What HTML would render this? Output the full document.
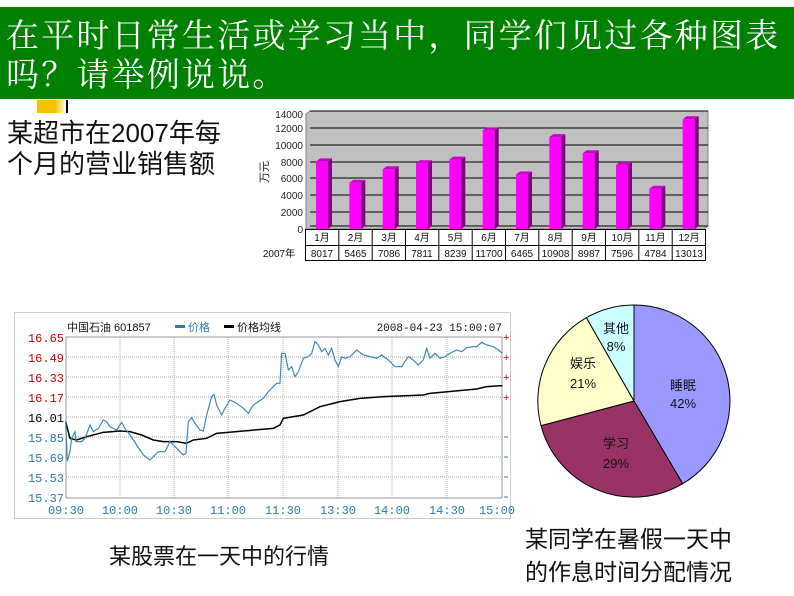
<!DOCTYPE html>
<html><head><meta charset="utf-8"><style>
body{margin:0;width:794px;height:596px;background:#fff;overflow:hidden;position:relative;font-family:"Liberation Sans","Noto Sans CJK SC",sans-serif}
.t{position:absolute;white-space:nowrap}
</style></head><body>
<div style="position:absolute;left:0;top:7px;width:794px;height:92px;background:#008000"></div>
<div class="t" style="left:6px;top:14px;color:#fff;font-size:33px;letter-spacing:2.2px;line-height:39px;font-family:'Noto Serif CJK SC','WenQuanYi Zen Hei',serif">在平时日常生活或学习当中，同学们见过各种图表<br>吗？请举例说说。</div>
<div style="position:absolute;left:37px;top:100px;width:30px;height:13px;background:linear-gradient(90deg,#f5c200 60%,#fff)"></div>
<div style="position:absolute;left:66px;top:100px;width:2px;height:13px;background:#000"></div>
<div class="t" style="left:7px;top:118px;font-size:26px;line-height:31px;color:#111">某超市在2007年每<br>个月的营业销售额</div>

<svg style="position:absolute;left:0;top:0" width="794" height="596">
<polygon points="306,114 310,111 708,111 708,226 704,229 306,229" fill="#c0c0c0" stroke="#808080"/>
<g stroke="#000" stroke-width="1">
<line x1="310" y1="111" x2="708" y2="111"/><line x1="310" y1="128" x2="708" y2="128"/><line x1="310" y1="145" x2="708" y2="145"/><line x1="310" y1="162" x2="708" y2="162"/><line x1="310" y1="178" x2="708" y2="178"/><line x1="310" y1="195" x2="708" y2="195"/><line x1="310" y1="212" x2="708" y2="212"/><line x1="310" y1="226" x2="708" y2="226"/>
</g>
<line x1="306" y1="114" x2="306" y2="229" stroke="#808080"/>
<g font-size="10" text-anchor="end" fill="#222">
<text x="303" y="118">14000</text><text x="303" y="132">12000</text><text x="303" y="149">10000</text><text x="303" y="166">8000</text><text x="303" y="182">6000</text><text x="303" y="199">4000</text><text x="303" y="216">2000</text><text x="303" y="233">0</text>
</g>
<text x="0" y="0" font-size="11" transform="translate(268,172) rotate(-90)" text-anchor="middle" fill="#222">万元</text>
<g>
<g transform="translate(316,161.4)"><rect width="12" height="67.6" fill="#f0f"/><polygon points="12,0 16,-3 16,64.6 12,67.6" fill="#800080"/><polygon points="0,0 4,-3 16,-3 12,0" fill="#c0c"/></g>
<g transform="translate(349.3,182.9)"><rect width="12" height="46.1" fill="#f0f"/><polygon points="12,0 16,-3 16,43.1 12,46.1" fill="#800080"/><polygon points="0,0 4,-3 16,-3 12,0" fill="#c0c"/></g>
<g transform="translate(382.7,169.3)"><rect width="12" height="59.7" fill="#f0f"/><polygon points="12,0 16,-3 16,56.7 12,59.7" fill="#800080"/><polygon points="0,0 4,-3 16,-3 12,0" fill="#c0c"/></g>
<g transform="translate(416,163.2)"><rect width="12" height="65.8" fill="#f0f"/><polygon points="12,0 16,-3 16,62.8 12,65.8" fill="#800080"/><polygon points="0,0 4,-3 16,-3 12,0" fill="#c0c"/></g>
<g transform="translate(449.3,159.6)"><rect width="12" height="69.4" fill="#f0f"/><polygon points="12,0 16,-3 16,66.4 12,69.4" fill="#800080"/><polygon points="0,0 4,-3 16,-3 12,0" fill="#c0c"/></g>
<g transform="translate(482.7,130.4)"><rect width="12" height="98.6" fill="#f0f"/><polygon points="12,0 16,-3 16,95.6 12,98.6" fill="#800080"/><polygon points="0,0 4,-3 16,-3 12,0" fill="#c0c"/></g>
<g transform="translate(516,174.5)"><rect width="12" height="54.5" fill="#f0f"/><polygon points="12,0 16,-3 16,51.5 12,54.5" fill="#800080"/><polygon points="0,0 4,-3 16,-3 12,0" fill="#c0c"/></g>
<g transform="translate(549.3,137.1)"><rect width="12" height="91.9" fill="#f0f"/><polygon points="12,0 16,-3 16,88.9 12,91.9" fill="#800080"/><polygon points="0,0 4,-3 16,-3 12,0" fill="#c0c"/></g>
<g transform="translate(582.7,153.3)"><rect width="12" height="75.7" fill="#f0f"/><polygon points="12,0 16,-3 16,72.7 12,75.7" fill="#800080"/><polygon points="0,0 4,-3 16,-3 12,0" fill="#c0c"/></g>
<g transform="translate(616,165)"><rect width="12" height="64" fill="#f0f"/><polygon points="12,0 16,-3 16,61 12,64" fill="#800080"/><polygon points="0,0 4,-3 16,-3 12,0" fill="#c0c"/></g>
<g transform="translate(649.3,188.7)"><rect width="12" height="40.3" fill="#f0f"/><polygon points="12,0 16,-3 16,37.3 12,40.3" fill="#800080"/><polygon points="0,0 4,-3 16,-3 12,0" fill="#c0c"/></g>
<g transform="translate(682.7,119.3)"><rect width="12" height="109.7" fill="#f0f"/><polygon points="12,0 16,-3 16,106.7 12,109.7" fill="#800080"/><polygon points="0,0 4,-3 16,-3 12,0" fill="#c0c"/></g>
</g>
<g stroke="#000" stroke-width="1" fill="none">
<rect x="305.5" y="229.5" width="400" height="31"/><line x1="305" y1="245.5" x2="706" y2="245.5"/>
<line x1="338.8" y1="229" x2="338.8" y2="261"/><line x1="372.2" y1="229" x2="372.2" y2="261"/><line x1="405.5" y1="229" x2="405.5" y2="261"/><line x1="438.8" y1="229" x2="438.8" y2="261"/><line x1="472.2" y1="229" x2="472.2" y2="261"/><line x1="505.5" y1="229" x2="505.5" y2="261"/><line x1="538.8" y1="229" x2="538.8" y2="261"/><line x1="572.2" y1="229" x2="572.2" y2="261"/><line x1="605.5" y1="229" x2="605.5" y2="261"/><line x1="638.8" y1="229" x2="638.8" y2="261"/><line x1="672.2" y1="229" x2="672.2" y2="261"/>
</g>
<g font-size="10" text-anchor="middle" fill="#111">
<text x="322" y="241">1月</text><text x="355.5" y="241">2月</text><text x="389" y="241">3月</text><text x="422" y="241">4月</text><text x="455.5" y="241">5月</text><text x="489" y="241">6月</text><text x="522" y="241">7月</text><text x="555.5" y="241">8月</text><text x="589" y="241">9月</text><text x="622" y="241">10月</text><text x="655.5" y="241">11月</text><text x="689" y="241">12月</text>
<text x="322" y="257">8017</text><text x="355.5" y="257">5465</text><text x="389" y="257">7086</text><text x="422" y="257">7811</text><text x="455.5" y="257">8239</text><text x="489" y="257">11700</text><text x="522" y="257">6465</text><text x="555.5" y="257">10908</text><text x="589" y="257">8987</text><text x="622" y="257">7596</text><text x="655.5" y="257">4784</text><text x="689" y="257">13013</text>
<text x="279" y="257">2007年</text>
</g>

<rect x="14.5" y="312.5" width="496" height="206" fill="#fff" stroke="#ccc"/>
<g stroke="#aaa" stroke-dasharray="1,1">
<line x1="66" y1="357" x2="502" y2="357"/><line x1="66" y1="377" x2="502" y2="377"/><line x1="66" y1="397" x2="502" y2="397"/><line x1="66" y1="417" x2="502" y2="417"/><line x1="66" y1="437" x2="502" y2="437"/><line x1="66" y1="457" x2="502" y2="457"/><line x1="66" y1="477" x2="502" y2="477"/>
<line x1="120" y1="337" x2="120" y2="498"/><line x1="174" y1="337" x2="174" y2="498"/><line x1="228" y1="337" x2="228" y2="498"/><line x1="283" y1="337" x2="283" y2="498"/><line x1="338" y1="337" x2="338" y2="498"/><line x1="392" y1="337" x2="392" y2="498"/><line x1="447" y1="337" x2="447" y2="498"/>
</g>
<rect x="66" y="337" width="436" height="161" fill="none" stroke="#999"/>
<g font-size="12" fill="#111">
<text x="67" y="331" font-size="11">中国石油 601857</text>
<rect x="175" y="325" width="10" height="3" fill="#2a7ab0"/><text x="188" y="331" fill="#2a7ab0" font-size="11">价格</text>
<rect x="224" y="325" width="10" height="3" fill="#000"/><text x="237" y="331" font-size="11">价格均线</text>
<text x="502" y="331" text-anchor="end" font-size="11" font-family="Liberation Mono,monospace">2008-04-23 15:00:07</text>
</g>
<g font-size="12" text-anchor="end" font-family="Liberation Mono,monospace">
<text x="64" y="342" fill="#c00">16.65</text><text x="64" y="362" fill="#c00">16.49</text><text x="64" y="382" fill="#c00">16.33</text><text x="64" y="402" fill="#c00">16.17</text><text x="64" y="422" fill="#000">16.01</text><text x="64" y="442" fill="#2a7ab0">15.85</text><text x="64" y="462" fill="#2a7ab0">15.69</text><text x="64" y="482" fill="#2a7ab0">15.53</text><text x="64" y="502" fill="#2a7ab0">15.37</text>
</g>
<g font-size="11" fill="#c00"><text x="503" y="341">+</text><text x="503" y="361">+</text><text x="503" y="381">+</text><text x="503" y="401">+</text></g>
<g stroke="#2a7ab0"><line x1="504" y1="437" x2="508" y2="437"/><line x1="504" y1="457" x2="508" y2="457"/><line x1="504" y1="477" x2="508" y2="477"/><line x1="504" y1="497" x2="508" y2="497"/></g>
<g font-size="12" text-anchor="middle" fill="#2a7ab0" font-family="Liberation Mono,monospace">
<text x="66" y="514">09:30</text><text x="120" y="514">10:00</text><text x="174" y="514">10:30</text><text x="228" y="514">11:00</text><text x="283" y="514">11:30</text><text x="338" y="514">13:30</text><text x="392" y="514">14:00</text><text x="447" y="514">14:30</text><text x="497" y="514">15:00</text>
</g>
<g transform="translate(10,305) scale(0.33333)" fill="none">
<polyline stroke="#000" stroke-width="4.5" points="167,350 180,400 200,405 230,395 280,382 330,378 360,380 395,390 430,405 460,410 500,410 530,415 550,405 590,400 620,385 700,378 790,370 810,360 820,340 880,330 900,320 930,305 990,290 1050,280 1120,275 1240,270 1260,265 1400,252 1430,245 1477,242"/>
<polyline stroke="#3a85b8" stroke-width="3.5" points="167,350 172,468 180,440 185,400 195,380 198,410 215,410 225,400 240,360 250,380 265,370 280,345 290,350 300,365 320,375 335,352 345,370 360,390 380,420 400,450 420,465 430,455 445,440 465,440 480,410 490,420 500,430 510,440 520,450 528,445 535,350 545,338 555,355 570,375 580,378 590,330 605,275 612,268 620,300 635,330 645,310 660,285 680,295 700,310 715,325 730,300 745,290 760,280 775,260 785,250 800,235 810,235 815,145 825,145 835,195 845,185 855,215 865,200 880,160 895,155 905,145 915,110 925,120 935,140 945,130 955,150 965,130 975,165 985,185 995,155 1005,160 1020,155 1040,135 1060,150 1080,155 1100,160 1115,150 1135,165 1155,185 1175,185 1195,155 1210,165 1225,180 1240,165 1250,130 1260,160 1275,145 1290,160 1305,155 1320,145 1340,135 1355,140 1370,128 1390,125 1400,125 1415,112 1430,120 1450,125 1465,135 1477,145"/>
</g>

<g stroke="#000" stroke-width="1">
<path d="M634,401 L634,305 A96,96 0 0 1 682.7,483.7 Z" fill="#9999ff"/>
<path d="M634,401 L682.7,483.7 A96,96 0 0 1 541,425.6 Z" fill="#993366"/>
<path d="M634,401 L541,425.6 A96,96 0 0 1 586.4,317.7 Z" fill="#ffffcc"/>
<path d="M634,401 L586.4,317.7 A96,96 0 0 1 634,305 Z" fill="#ccffff"/>
</g>
<g font-size="13" text-anchor="middle" fill="#111">
<text x="683" y="390">睡眠</text><text x="683" y="408">42%</text>
<text x="616" y="448">学习</text><text x="616" y="468">29%</text>
<text x="583" y="368">娱乐</text><text x="583" y="388">21%</text>
<text x="616" y="333">其他</text><text x="616" y="351">8%</text>
</g>
</svg>
<div class="t" style="left:109px;top:539px;font-size:22px;color:#111">某股票在一天中的行情</div>
<div class="t" style="left:525px;top:523px;font-size:23px;line-height:33px;color:#111">某同学在暑假一天中<br>的作息时间分配情况</div>
</body></html>
